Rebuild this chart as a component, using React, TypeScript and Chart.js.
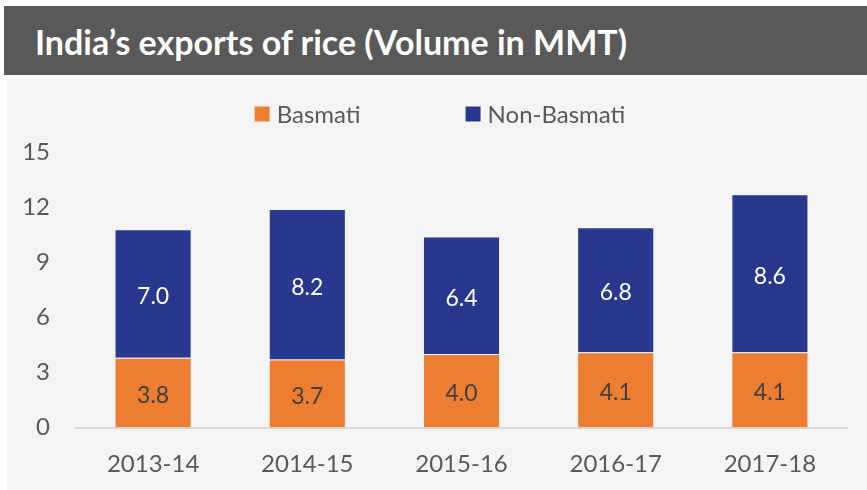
import React, { useEffect, useRef } from "react";
import { Chart, registerables } from "chart.js";

Chart.register(...registerables);

const title = "India’s exports of rice (Volume in MMT)";
const categories = ["2013-14", "2014-15", "2015-16", "2016-17", "2017-18"];
const basmati = [3.8, 3.7, 4.0, 4.1, 4.1];
const nonBasmati = [7.0, 8.2, 6.4, 6.8, 8.6];
const seriesNames = ["Basmati", "Non-Basmati"];
const yTicks = [0, 3, 6, 9, 12, 15];

const ORANGE = "#ED7D31";
const NAVY = "#28388F";
const GREY_TEXT = "#595959";
const FONT = "Lato";

const valueLabels = {
  id: "valueLabels",
  afterDatasetsDraw(chart: any) {
    const ctx = chart.ctx;
    ctx.save();
    ctx.font = `23px ${FONT}`;
    ctx.textAlign = "center";
    ctx.textBaseline = "middle";
    chart.data.datasets.forEach((ds: any, di: number) => {
      const meta = chart.getDatasetMeta(di);
      ctx.fillStyle = di === 0 ? "#404040" : "#ffffff";
      meta.data.forEach((el: any, i: number) => {
        const v = ds.data[i];
        const cy = (el.y + el.base) / 2 + 3;
        ctx.fillText(Number(v).toFixed(1), el.x, cy);
      });
    });
    ctx.restore();
  },
};

const customLegend = {
  id: "customLegend",
  afterDraw(chart: any) {
    const ctx = chart.ctx;
    ctx.save();
    ctx.font = `24px ${FONT}`;
    ctx.textBaseline = "middle";
    ctx.textAlign = "left";
    const box = 15;
    const textGap = 7;
    const itemGap = 105;
    const items = chart.data.datasets.map((ds: any) => ({
      label: ds.label,
      color: ds.backgroundColor,
      w: box + textGap + ctx.measureText(ds.label).width,
    }));
    const total = items.reduce((s: number, it: any) => s + it.w, 0) + itemGap * (items.length - 1);
    let x = 433 - total / 2;
    const cy = 35;
    items.forEach((it: any) => {
      ctx.fillStyle = it.color;
      ctx.fillRect(x, cy - box / 2, box, box);
      ctx.fillStyle = GREY_TEXT;
      ctx.fillText(it.label, x + box + textGap, cy + 1);
      x += it.w + itemGap;
    });
    ctx.restore();
  },
};

export default function App() {
  const ref = useRef<HTMLCanvasElement | null>(null);

  useEffect(() => {
    if (!ref.current) return;
    const chart = new Chart(ref.current, {
      type: "bar",
      data: {
        labels: categories,
        datasets: [
          {
            label: seriesNames[0],
            data: basmati,
            backgroundColor: ORANGE,
            borderColor: "rgba(255,255,255,0.2)",
            borderWidth: 1,
            borderSkipped: "bottom",
          },
          {
            label: seriesNames[1],
            data: nonBasmati,
            backgroundColor: NAVY,
            borderColor: "rgba(255,255,255,0.25)",
            borderWidth: 1,
            borderSkipped: "bottom",
          },
        ],
      },
      options: {
        animation: false,
        responsive: false,
        events: [],
        layout: { padding: { left: 0, right: 20, top: 73, bottom: 0 } },
        datasets: { bar: { categoryPercentage: 1, barPercentage: 0.5 } },
        plugins: {
          legend: { display: false },
          tooltip: { enabled: false },
          title: { display: false },
        },
        scales: {
          x: {
            stacked: true,
            afterFit(scale: any) {
              scale.height = 62.5;
            },
            grid: { display: false, drawTicks: false },
            border: { display: true, color: "#D9D9D9", width: 2 },
            ticks: { color: GREY_TEXT, font: { family: FONT, size: 24 }, padding: 22 },
          },
          y: {
            stacked: true,
            min: 0,
            max: 15,
            afterFit(scale: any) {
              scale.width = 69;
            },
            afterBuildTicks(scale: any) {
              scale.ticks = yTicks.map((v) => ({ value: v }));
            },
            grid: { display: false, drawTicks: false },
            border: { display: false },
            ticks: { color: GREY_TEXT, font: { family: FONT, size: 24 }, padding: 26 },
          },
        },
      },
      plugins: [valueLabels, customLegend],
    });
    return () => chart.destroy();
  }, []);

  return (
    <div style={{ position: "absolute", left: 0, top: 0, width: 867, height: 490, background: "#ffffff", overflow: "hidden" }}>
      <div
        style={{
          position: "absolute",
          left: 4,
          top: 6,
          width: 863,
          height: 69,
          background: "#595959",
          color: "#ffffff",
          fontFamily: FONT,
          fontWeight: 700,
          fontSize: 34,
          lineHeight: "72px",
          paddingLeft: 31,
          boxSizing: "border-box",
          whiteSpace: "nowrap",
        }}
      >
        {title}
      </div>
      <div style={{ position: "absolute", left: 7, top: 79, width: 860, height: 411, background: "#F4F4F4" }}>
        <canvas ref={ref} width={860} height={411} style={{ display: "block" }} />
      </div>
    </div>
  );
}
